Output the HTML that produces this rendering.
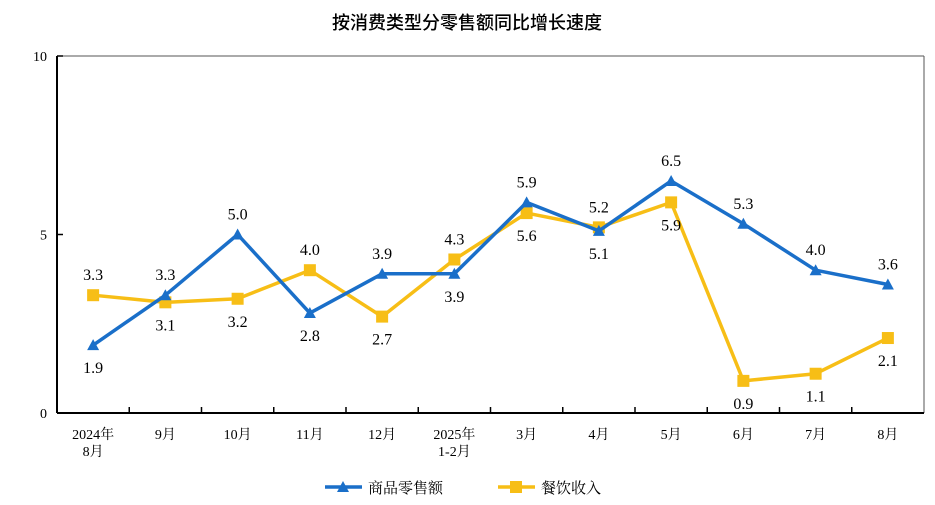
<!DOCTYPE html>
<html><head><meta charset="utf-8"><style>
body{margin:0;background:#fff;}
svg text{font-family:"Liberation Serif","Noto Serif CJK SC",serif;}
</style></head><body>
<svg id="c" width="935" height="500">
<text x="467" y="29" text-anchor="middle" font-size="18" font-weight="bold" style="font-family:'Liberation Sans','Noto Sans CJK SC',sans-serif;font-weight:500">按消费类型分零售额同比增长速度</text>
</svg>
<script>
const categories=["2024年|8月","9月","10月","11月","12月","2025年|1-2月","3月","4月","5月","6月","7月","8月"];
const retailValues=[1.9,3.3,5.0,2.8,3.9,3.9,5.9,5.1,6.5,5.3,4.0,3.6];
const cateringValues=[3.3,3.1,3.2,4.0,2.7,4.3,5.6,5.2,5.9,0.9,1.1,2.1];
const yTicks=[0,5,10];
const NS="http://www.w3.org/2000/svg";
const svg=document.getElementById('c');
const L=57,R=924,T=56,B=413,ymax=10;
const bw=(R-L)/categories.length;
const x=i=>L+bw*(i+0.5);
const y=v=>B-(B-T)*v/ymax;
function mk(t,a,p){const e=document.createElementNS(NS,t);for(const k in a)e.setAttribute(k,a[k]);(p||svg).appendChild(e);return e;}
let e=mk('line',{x1:L,y1:T,x2:R,y2:T,stroke:'#555','stroke-width':1});

e=mk('line',{x1:R,y1:T,x2:R,y2:B,stroke:'#555','stroke-width':1});

e=mk('line',{x1:L,y1:T,x2:L,y2:B,stroke:'#000','stroke-width':2});

e=mk('line',{x1:L,y1:B,x2:R,y2:B,stroke:'#000','stroke-width':2});

yTicks.forEach(v=>{
 let t=mk('line',{x1:L,y1:y(v),x2:L+6,y2:y(v),stroke:'#000','stroke-width':1.5});
 
 t=mk('text',{x:L-10,y:y(v)+5,'text-anchor':'end','font-size':14});t.textContent=v;
 
});
categories.forEach((c,i)=>{
 if(i>0){let t=mk('line',{x1:L+bw*i,y1:B,x2:L+bw*i,y2:B-6,stroke:'#000','stroke-width':1.5});
 }
 const parts=c.split('|');
 parts.forEach((p,j)=>{let t=mk('text',{x:x(i),y:B+26+j*17,'text-anchor':'middle','font-size':14});t.textContent=p;
 });
});
function series(vals,other,color,marker,name){
 const g=mk('g',{});
 let l=mk('polyline',{points:vals.map((v,i)=>x(i)+','+y(v)).join(' '),fill:'none',stroke:color,'stroke-width':3.5,'stroke-linejoin':'round'},g);
 
 vals.forEach((v,i)=>{
  const cx=x(i),cy=y(v);let m;
  if(marker==='tri')m=mk('polygon',{points:`${cx},${cy-6} ${cx-6},${cy+5} ${cx+6},${cy+5}`,fill:color},g);
  else m=mk('rect',{x:cx-6,y:cy-6,width:12,height:12,fill:color},g);
  
  const above=v>=other[i];
  const t=mk('text',{x:cx,y:above?cy-15:cy+28,'text-anchor':'middle','font-size':16},g);t.textContent=v.toFixed(1);
  
 });
}
series(cateringValues,retailValues,'#F7BE16','sq','catering');
series(retailValues,cateringValues,'#1A6FC9','tri','retail');
const lg=mk('g',{});
const ly=487;
let le=mk('g',{},lg);
mk('line',{x1:325,y1:ly,x2:362,y2:ly,stroke:'#1A6FC9','stroke-width':3.5},le);
mk('polygon',{points:`343,${ly-6} 337,${ly+5} 349,${ly+5}`,fill:'#1A6FC9'},le);
let lt=mk('text',{x:368,y:ly+6,'font-size':15},le);lt.textContent='商品零售额';

le=mk('g',{},lg);
mk('line',{x1:498,y1:ly,x2:535,y2:ly,stroke:'#F7BE16','stroke-width':3.5},le);
mk('rect',{x:510,y:ly-6,width:12,height:12,fill:'#F7BE16'},le);
lt=mk('text',{x:541,y:ly+6,'font-size':15},le);lt.textContent='餐饮收入';

</script>
</body></html>
